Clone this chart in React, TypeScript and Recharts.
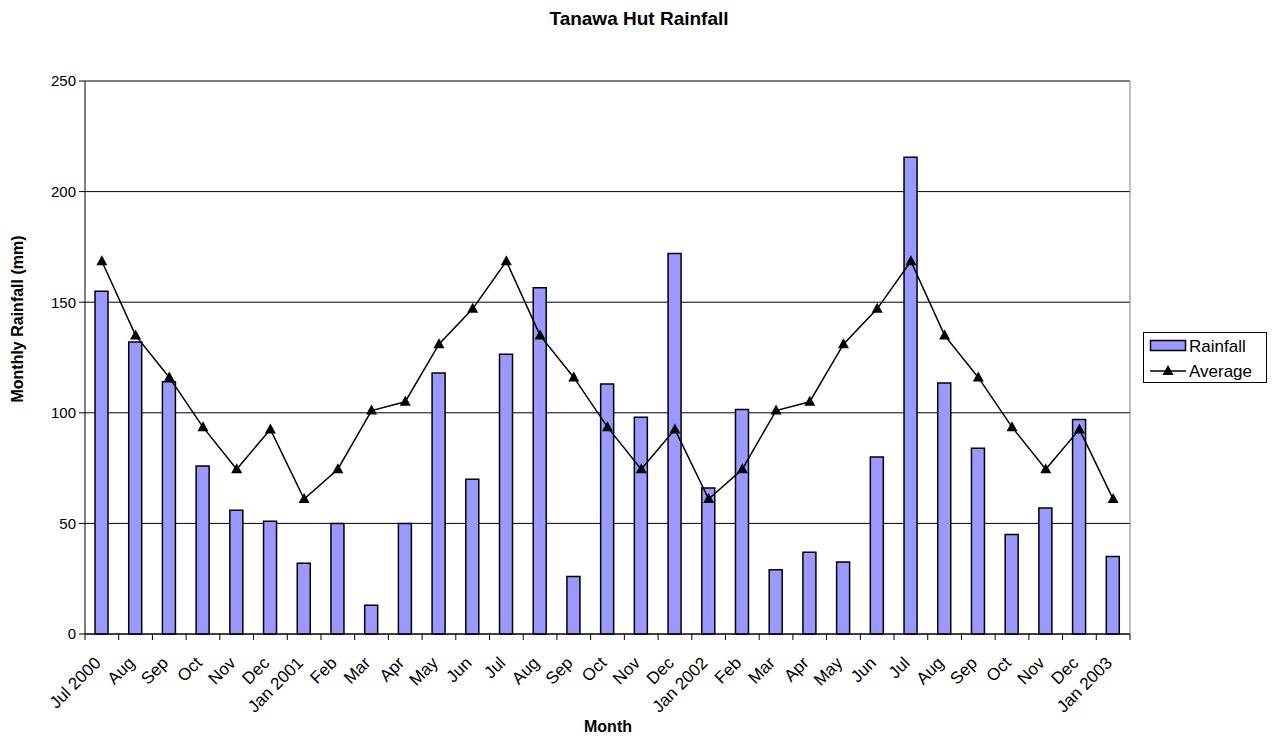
import React from "react";
import { ComposedChart, Bar, Line, XAxis, YAxis, CartesianGrid } from "recharts";

// chart data
const months = [
  "Jul 2000", "Aug", "Sep", "Oct", "Nov", "Dec",
  "Jan 2001", "Feb", "Mar", "Apr", "May", "Jun",
  "Jul", "Aug", "Sep", "Oct", "Nov", "Dec",
  "Jan 2002", "Feb", "Mar", "Apr", "May", "Jun",
  "Jul", "Aug", "Sep", "Oct", "Nov", "Dec",
  "Jan 2003",
];
const rainfall = [
  155, 132, 114, 76, 56, 51,
  32, 50, 13, 50, 118, 70,
  126.5, 156.5, 26, 113, 98, 172,
  66, 101.5, 29, 37, 32.5, 80,
  215.5, 113.5, 84, 45, 57, 97,
  35,
];
const average = [
  168.5, 135, 116, 93.5, 74.5, 92.5,
  61, 74.5, 101, 105, 131, 147,
  168.5, 135, 116, 93.5, 74.5, 92.5,
  61, 74.5, 101, 105, 131, 147,
  168.5, 135, 116, 93.5, 74.5, 92.5,
  61,
];
const yTicks = [0, 50, 100, 150, 200, 250];

const data = months.map((month, i) => ({
  month,
  rainfall: rainfall[i],
  average: average[i],
}));

const FONT = "'Liberation Sans', Arial, sans-serif";
const W = 1272;
const H = 743;
const PLOT_LEFT = 85;
const PLOT_RIGHT = 1130;
const PLOT_TOP = 81;
const PLOT_BOTTOM = 634;
const BAND = (PLOT_RIGHT - PLOT_LEFT) / months.length;

function MonthTick(props: any) {
  const { x, y, payload, index } = props;
  const half = BAND / 2;
  const tx = x;
  const ty = y + 30;
  return (
    <g>
      <line x1={x - half} x2={x - half} y1={y} y2={y + 6} stroke="#000" />
      {index === months.length - 1 && (
        <>
          <line x1={x + half} x2={x + half} y1={y} y2={y + 6} stroke="#000" />
          <line x1={x + half} x2={x + half} y1={y} y2={y - (PLOT_BOTTOM - PLOT_TOP)} stroke="#808080" />
        </>
      )}
      <text
        x={tx}
        y={ty}
        transform={`rotate(-45 ${tx} ${ty})`}
        textAnchor="end"
        fontSize={17}
        fontFamily={FONT}
        fill="#000"
      >
        {payload.value}
      </text>
    </g>
  );
}

function TriangleDot(props: any) {
  const { cx, cy } = props;
  if (cx == null || cy == null) return null;
  return (
    <polygon
      points={`${cx},${cy - 6} ${cx - 5.5},${cy + 4} ${cx + 5.5},${cy + 4}`}
      fill="#000"
    />
  );
}

export default function App() {
  return (
    <div style={{ position: "absolute", left: 0, top: 0, width: W, height: H, background: "#fff", fontFamily: FONT }}>
      <ComposedChart
        width={W}
        height={H}
        data={data}
        margin={{ top: PLOT_TOP, right: W - PLOT_RIGHT, left: PLOT_LEFT - 70, bottom: H - PLOT_BOTTOM - 80 }}
      >
        <CartesianGrid vertical={false} stroke="#000" strokeWidth={1} />
        <XAxis
          dataKey="month"
          interval={0}
          height={80}
          tickLine={false}
          tickSize={0}
          tickMargin={0}
          axisLine={{ stroke: "#000" }}
          tick={<MonthTick />}
        />
        <YAxis
          width={70}
          domain={[0, 250]}
          ticks={yTicks}
          interval={0}
          tickSize={6}
          tickMargin={3}
          axisLine={{ stroke: "#000" }}
          tickLine={{ stroke: "#000" }}
          tick={{ fill: "#000", fontSize: 15, fontFamily: FONT }}
        />
        <Bar
          dataKey="rainfall"
          name="Rainfall"
          fill="#9999FF"
          stroke="#000"
          strokeWidth={1.5}
          barSize={13}
          isAnimationActive={false}
        />
        <Line
          dataKey="average"
          name="Average"
          type="linear"
          stroke="#000"
          strokeWidth={1.5}
          dot={<TriangleDot />}
          activeDot={false}
          isAnimationActive={false}
        />
      </ComposedChart>

      <svg
        width={W}
        height={H}
        style={{ position: "absolute", left: 0, top: 0, pointerEvents: "none" }}
        fontFamily={FONT}
      >
        <text x={639} y={25} textAnchor="middle" fontSize={19} fontWeight="bold" fill="#000">
          Tanawa Hut Rainfall
        </text>
        <text x={608} y={732} textAnchor="middle" fontSize={16} fontWeight="bold" fill="#000">
          Month
        </text>
        <text
          x={23}
          y={319}
          textAnchor="middle"
          fontSize={16}
          fontWeight="bold"
          fill="#000"
          transform="rotate(-90 23 319)"
        >
          Monthly Rainfall (mm)
        </text>

        {/* legend */}
        <g>
          <rect x={1143.5} y={332.5} width={123} height={50} fill="#fff" stroke="#000" />
          <rect x={1150.5} y={340.5} width={35} height={10} fill="#9999FF" stroke="#000" strokeWidth={1.5} />
          <text x={1189} y={352} fontSize={17} fill="#000">Rainfall</text>
          <line x1={1150} x2={1186} y1={371} y2={371} stroke="#000" strokeWidth={1.5} />
          <polygon points="1168,365 1162.5,375 1173.5,375" fill="#000" />
          <text x={1189} y={377} fontSize={17} fill="#000">Average</text>
        </g>
      </svg>
    </div>
  );
}
